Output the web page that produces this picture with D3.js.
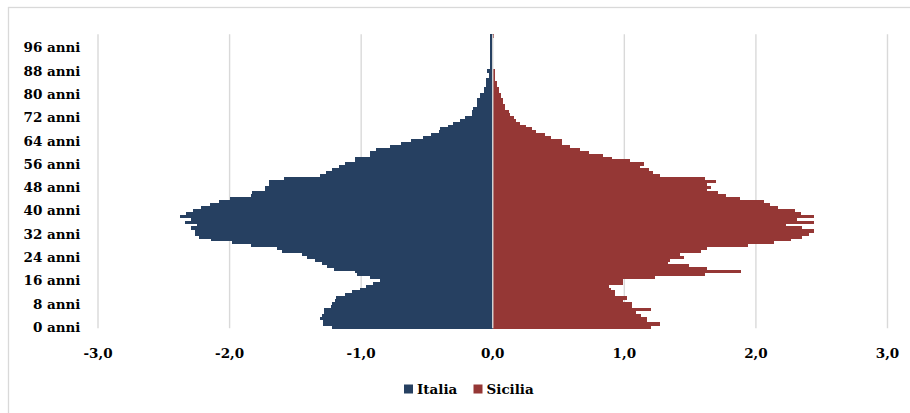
<!DOCTYPE html>
<html>
<head>
<meta charset="utf-8">
<script src="https://cdn.jsdelivr.net/npm/d3@7"></script>
<style>
  html, body { margin: 0; padding: 0; background: #fff; }
  svg { display: block; }
  text { font-family: "DejaVu Serif", serif; font-weight: bold; font-size: 13.5px; fill: #000; }
</style>
</head>
<body>
<svg id="chart" width="910" height="413"></svg>
<script>
// ---- data (percent of population by single year of age, 0..100) ----
const ages = d3.range(0, 101);
const categories = ages.map(a => a + " anni");
const tickLabels = ["0 anni","8 anni","16 anni","24 anni","32 anni","40 anni","48 anni","56 anni","64 anni","72 anni","80 anni","88 anni","96 anni"];
const xTicks = [-3, -2, -1, 0, 1, 2, 3];
const seriesNames = ["Italia", "Sicilia"];
const seriesColors = ["#264061", "#953735"];

const italia = [
  -1.22, -1.29, -1.29, -1.31, -1.30, -1.28, -1.28, -1.23, -1.22, -1.20,
  -1.19, -1.12, -1.07, -1.01, -0.96, -0.91, -0.86, -0.93, -1.03, -1.05,
  -1.21, -1.26, -1.30, -1.35, -1.41, -1.45, -1.60, -1.64, -1.84, -1.98,
  -2.14, -2.23, -2.26, -2.26, -2.29, -2.25, -2.34, -2.29, -2.38, -2.33,
  -2.28, -2.22, -2.15, -2.08, -2.00, -1.84, -1.83, -1.73, -1.73, -1.70,
  -1.70, -1.59, -1.31, -1.27, -1.22, -1.17, -1.12, -1.05, -1.05, -0.93,
  -0.93, -0.89, -0.78, -0.70, -0.62, -0.53, -0.47, -0.41, -0.40, -0.34,
  -0.30, -0.25, -0.21, -0.16, -0.16, -0.15, -0.12, -0.12, -0.12, -0.10,
  -0.10, -0.07, -0.07, -0.05, -0.05, -0.05, -0.03, -0.03, -0.04, -0.02,
  -0.02, -0.02, -0.02, -0.02, -0.02, -0.02, -0.02, -0.02, -0.02, -0.02,
  -0.02
];

const sicilia = [
  1.20, 1.27, 1.17, 1.17, 1.13, 1.09, 1.20, 1.06, 1.06, 0.99,
  1.02, 0.93, 0.93, 0.90, 0.88, 0.99, 0.99, 1.23, 1.61, 1.89,
  1.63, 1.49, 1.33, 1.35, 1.45, 1.42, 1.58, 1.63, 1.94, 2.14,
  2.27, 2.35, 2.40, 2.44, 2.35, 2.23, 2.44, 2.31, 2.44, 2.34,
  2.30, 2.17, 2.11, 2.06, 1.88, 1.77, 1.71, 1.63, 1.66, 1.63,
  1.70, 1.61, 1.27, 1.22, 1.19, 1.12, 1.15, 1.04, 0.91, 0.84,
  0.73, 0.66, 0.59, 0.53, 0.53, 0.44, 0.40, 0.33, 0.30, 0.25,
  0.21, 0.18, 0.16, 0.13, 0.12, 0.095, 0.09, 0.076, 0.075, 0.063,
  0.06, 0.048, 0.047, 0.035, 0.035, 0.017, 0.017, 0.017, 0.017, 0,
  0, 0, 0, 0, 0, 0, 0, 0, 0, 0,
  0.01
];

// ---- layout ----
const svg = d3.select("#chart");
const plot = { left: 98, right: 887.5, top: 34.3, bottom: 328.3 };

// outer frame
svg.append("rect")
  .attr("x", 8.5).attr("y", 7.5)
  .attr("width", 1000).attr("height", 1000)
  .attr("fill", "none").attr("stroke", "#D9D9D9").attr("stroke-width", 1.3);

const x = d3.scaleLinear().domain([-3, 3]).range([plot.left, plot.right]);
const y = d3.scaleBand().domain(categories.slice().reverse())
  .range([plot.top, plot.bottom]).padding(0);

const locale = d3.formatLocale({ decimal: ",", thousands: ".", grouping: [3], currency: ["€", ""], minus: "-" });
const fmt = locale.format(".1f");

// gridlines
svg.append("g").selectAll("line").data(xTicks.filter(t => t !== 0)).join("line")
  .attr("x1", d => x(d)).attr("x2", d => x(d))
  .attr("y1", plot.top).attr("y2", plot.bottom)
  .attr("stroke", "#D9D9D9").attr("stroke-width", 1.4);

// bars
const rows = categories.map((c, i) => ({ cat: c, it: italia[i], si: sicilia[i] }));
const bars = svg.append("g").attr("shape-rendering", "crispEdges");
bars.selectAll("rect.it").data(rows).join("rect")
  .attr("class", "it")
  .attr("x", d => x(Math.min(0, d.it)))
  .attr("width", d => Math.abs(x(d.it) - x(0)))
  .attr("y", d => y(d.cat))
  .attr("height", y.bandwidth() + 0.5)
  .attr("fill", seriesColors[0]);
bars.selectAll("rect.si").data(rows).join("rect")
  .attr("class", "si")
  .attr("x", d => x(Math.min(0, d.si)))
  .attr("width", d => Math.abs(x(d.si) - x(0)))
  .attr("y", d => y(d.cat))
  .attr("height", y.bandwidth() + 0.5)
  .attr("fill", seriesColors[1]);

// vertical axis line at zero (drawn on top)
svg.append("line")
  .attr("x1", x(0)).attr("x2", x(0))
  .attr("y1", plot.top).attr("y2", plot.bottom)
  .attr("stroke", "#D9D9D9").attr("stroke-width", 1.4);

// y labels
svg.append("g").selectAll("text").data(tickLabels).join("text")
  .attr("x", 80.5)
  .attr("y", d => y(d) + y.bandwidth() / 2)
  .attr("text-anchor", "end")
  .attr("dominant-baseline", "central")
  .text(d => d);

// x labels
svg.append("g").selectAll("text").data(xTicks).join("text")
  .attr("x", d => x(d))
  .attr("y", 352.7)
  .attr("text-anchor", "middle")
  .attr("dominant-baseline", "central")
  .text(d => fmt(d));

// legend
const legendPos = [404, 473.5];
const lg = svg.append("g");
seriesNames.forEach((name, i) => {
  lg.append("rect")
    .attr("x", legendPos[i]).attr("y", 384.5)
    .attr("width", 9).attr("height", 9)
    .attr("fill", seriesColors[i]);
  lg.append("text")
    .attr("x", legendPos[i] + 13)
    .attr("y", 389)
    .attr("dominant-baseline", "central")
    .text(name);
});
</script>
</body>
</html>
